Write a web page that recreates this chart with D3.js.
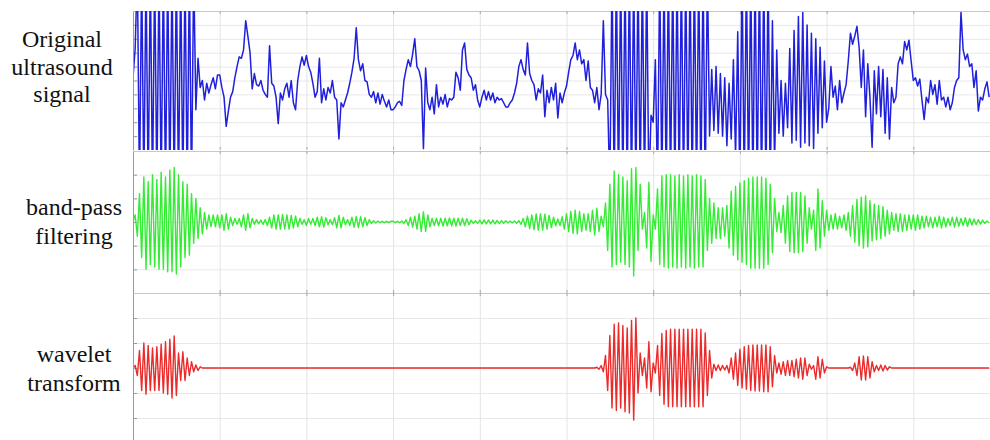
<!DOCTYPE html>
<html>
<head>
<meta charset="utf-8">
<script src="https://cdn.jsdelivr.net/npm/d3@7"></script>
<style>
  body { margin: 0; background: #fff; }
</style>
</head>
<body>
<div id="chart"></div>
<script>
var svgWidth = 990;
var svgHeight = 440;

// ---- data (one line per grid column) ----
var originalLabel = ["Original", "ultrasound", "signal"];
var bandpassLabel = ["band-pass", "filtering"];
var waveletLabel = ["wavelet", "transform"];

var originalTicks = [10, 20, 30, 40, 50, 60, 70, 80, 90];
var filteredTicks = [-20, -10, 0, 10, 20];
var sampleTicks = [40, 80, 120, 160, 200, 240, 280, 320, 360];

var originalSignal = [
  52,73,130,-30,130,-30,130,-30,130,-30,130,-30,130,-30,130,-30,130,-30,130,-30,130,-30,130,-30,130,-30,130,-30,130,29,66,45,50,36,48,41,47,52,44,54,
  54,45,38,17,28,38,42,52,60,67,66,72,93,82,70,44,55,47,46,50,43,40,38,75,48,46,38,19,41,36,44,48,38,50,34,29,50,60,67,61,
  68,60,56,48,38,42,66,34,44,36,45,41,50,38,36,8,34,31,36,41,48,56,66,88,65,57,62,50,49,40,38,42,34,41,33,40,35,31,36,29,
  29,31,34,35,32,50,58,65,60,69,80,60,57,50,1,59,34,29,38,26,47,31,38,33,40,31,37,36,38,56,52,43,72,77,58,54,52,43,47,36,
  31,38,43,36,42,36,41,34,38,36,37,34,31,31,34,36,41,48,60,65,58,54,77,55,50,47,36,44,41,54,24,43,34,45,36,48,23,41,34,41,
  46,56,65,68,77,65,72,62,65,50,64,45,43,34,45,29,40,93,40,36,-30,130,-30,130,-30,130,-30,130,-30,130,-30,130,-30,130,-30,130,-30,130,-30,25,
  20,65,-30,130,-30,130,-30,130,-30,130,-30,130,-30,130,-30,130,-30,130,-30,130,-30,130,-30,130,-30,130,10,58,14,60,12,55,10,52,3,48,8,65,-5,85,
  -30,130,-30,130,-30,130,-30,130,-30,130,-30,130,-30,130,-30,93,-10,72,12,50,10,48,16,73,5,86,7,96,2,99,5,90,3,84,1,80,12,74,16,64,
  20,30,60,38,46,29,50,34,41,47,64,84,76,82,89,74,45,72,24,62,38,2,57,26,60,24,58,12,52,8,45,34,38,62,67,62,78,72,79,64,
  50,52,46,51,36,22,38,34,50,40,47,33,50,36,38,31,38,29,34,45,50,52,99,72,65,69,60,62,45,57,28,38,36,44,49,38
];

var bandpassSignal = [
  0,3,-6,12,-15,19,-20,17,-18,20,-19,18,-20,21,-20,19,-21,22,-21,23,-22,20,-19,17,-15,16,-14,12,-9,10,-7,6,-5,4,-3,3,-2,3,-2,3,
  -2.5,3,-3.5,3.5,-3,2,-1.5,1.5,-1,1.5,-2,3,-3.5,3.5,-2.5,1.5,-1,1,-0.8,0.8,-1,1,-1.5,2,-2.5,3,-3,3,-3,3.2,-3,3,-3,2.8,-2.5,2.5,-2,1.5,-1,1,
  -1.5,1.5,-1,1.5,-1.5,2,-2,2.2,-2.2,1.8,-1.2,1,-1.2,1.8,-2.5,2.8,-2.5,2,-1.2,1,-1.5,2,-2.2,2.3,-2.3,2.2,-2,1.8,-1.5,1,-0.6,0.5,-0.4,0.4,-0.3,0.3,-0.3,0.3,-0.3,0.3,
  0.3,-0.3,0.3,-0.3,0.4,-0.6,1,-1.5,2,-2.2,2.5,-3,3.5,-4,4.3,-4,3,-2,1.5,-1.5,1.6,-1.6,1.6,-1.7,1.6,-1.6,1.7,-1.6,1.6,-1.7,1.6,-1.5,1.6,-1.5,1.4,-1.2,0.8,-0.6,0.5,-0.6,
  0.8,-0.8,0.9,-0.8,0.9,-0.8,0.8,-0.8,0.7,-0.7,0.6,-0.5,0.5,-0.4,0.4,-0.4,0.4,-0.5,0.6,-1,1.5,-2,2.5,-2.8,3,-3.2,3.4,-3.4,3.5,-3.4,3.3,-3,2.8,-2.4,2,-1.6,1.3,-1.5,2.2,-3,
  3.5,-4,4.5,-4.8,5,-5,4.5,-4,3.5,-3.5,3.5,-4,5,-5.5,5.8,-4,2.5,-2,8,-12,16,-19,21.5,-18,20,-17,19,-18,17.5,-19,22.5,-22.8,23,-12,16,-3,4,-11,16.8,-16.7,
  3,-3,14,-18,19.5,-19,20,-19.5,20,-19,19.5,-19.5,20,-19,19.5,-19.5,20,-19,19.5,-19.5,20,-19,19.5,-19,18,-12,10,-9,8,-7,6,-7,6,-6,7,-11,13,-14,15,-16,
  16.5,-17,17.5,-18,18.5,-19.5,19,-19.5,19,-19.5,19,-19.5,18.5,-18,16,-13,10,-4,4,-4.5,7,-9,11,-12.5,12.5,-13,12.5,-13,12.5,-12.5,11,-9,6,-3,5,-12,14,-11,9,-6,
  5,-3.5,3,-3,3.5,-3,2.5,-2.5,3,-3.5,4,-6,7,-8.5,9.5,-10,10.5,-11,11,-10.5,9,-8,7.5,-7.5,7,-7,6.5,-6,5,-5,4,-3.5,3.5,-4,3.5,-4,3,-3.5,3,-3,
  3,-3.5,3,-3,2.5,-2.5,2.5,-2,2,-2.5,2,-2,2.5,-2.5,2,-2,1.5,-1.5,2,-2.2,2,-1.8,1.5,-1.5,1.8,-1.8,1.5,-1.3,1.3,-1.2,1,-0.9,0.8,-0.6,0.4,-0.3
];

var waveletSignal = [
  0,1,-3,7,-9,10,-10.5,9,-9,8,-9,8.5,-9,9.5,-10,10.5,-10.5,11.5,-12,12.8,-11,6,-5,6.5,-5,4,-3,2.5,-1.5,1.2,-1,0.5,0,0,0,0,0,0,0,0,
  0,0,0,0,0,0,0,0,0,0,0,0,0,0,0,0,0,0,0,0,0,0,0,0,0,0,0,0,0,0,0,0,0,0,0,0,0,0,0,0,
  0,0,0,0,0,0,0,0,0,0,0,0,0,0,0,0,0,0,0,0,0,0,0,0,0,0,0,0,0,0,0,0,0,0,0,0,0,0,0,0,
  0,0,0,0,0,0,0,0,0,0,0,0,0,0,0,0,0,0,0,0,0,0,0,0,0,0,0,0,0,0,0,0,0,0,0,0,0,0,0,0,
  0,0,0,0,0,0,0,0,0,0,0,0,0,0,0,0,0,0,0,0,0,0,0,0,0,0,0,0,0,0,0,0,0,0,0,0,0,0,0,0,
  0,0,0,0,0,0,0,0,0,0,0,0,0,0,0.3,-0.5,1,-1.5,5,-9,13,-16,17.5,-17,18,-16,17,-17.5,16,-18,19,-20.8,20,-10,6,-3,4,-8,10.5,-9.5,
  2,-2,9,-11,13.8,-14.5,15,-15.5,15.5,-15.5,15.5,-15.5,15.5,-15.5,15.5,-15.5,15.5,-15.5,15.5,-15.5,15.5,-15.5,15.5,-15.5,14,-11,7,-4,1.5,-1,1.2,-1,1,-0.8,1,-2,4,-4.5,6,-7,
  7.5,-8,8.5,-8.5,9,-9,9.2,-9.2,9.2,-9.2,9.2,-9.5,9.2,-9.5,8.5,-7.5,5,-2,2,-2.5,2.5,-3,3,-3,3,-3.5,3.5,-4,4,-4.5,4,-3,1.5,-0.5,1,-4.5,4.5,-4,3.5,-2,
  0.5,0,0,0,0,0,0,0,0,0,0,0.3,-1,2,-3,4.5,-4.8,4.8,-4.8,4.5,-4,2.5,-1.5,1,-1,1.2,-1.2,1,-0.8,0.5,0,0,0,0,0,0,0,0,0,0,
  0,0,0,0,0,0,0,0,0,0,0,0,0,0,0,0,0,0,0,0,0,0,0,0,0,0,0,0,0,0,0,0,0,0,0,0
];

// ---- layout ----
var plotLeft = 133;
var plotRight = 1000;

var panels = [
  { top: 11, bottom: 150, domain: [0, 100], ticks: originalTicks, data: originalSignal,
    color: "#2020dc", width: 1.5, label: originalLabel, labelX: 62, labelY: [47, 75, 102] },
  { top: 151, bottom: 293, domain: [-30, 30], ticks: filteredTicks, data: bandpassSignal,
    color: "#33ec33", width: 1.4, label: bandpassLabel, labelX: 74, labelY: [215, 244] },
  { top: 293, bottom: 443, domain: [-30, 30], ticks: filteredTicks, data: waveletSignal,
    color: "#ec2a2a", width: 1.4, label: waveletLabel, labelX: 74, labelY: [362, 391] }
];

var svg = d3.select("#chart")
  .append("svg")
  .attr("width", svgWidth)
  .attr("height", svgHeight);

var xScale = d3.scaleLinear()
  .domain([0, 400])
  .range([plotLeft, plotRight]);

panels.forEach(function(p, k) {
  var yScale = d3.scaleLinear()
    .domain(p.domain)
    .range([p.bottom, p.top]);

  var g = svg.append("g");

  // horizontal grid
  var yGrid = g.append("g")
    .attr("transform", `translate(${plotLeft}, 0)`)
    .call(d3.axisLeft(yScale).tickValues(p.ticks).tickSize(-(plotRight - plotLeft)).tickFormat(""));
  yGrid.select(".domain").remove();
  yGrid.selectAll("line").attr("stroke", "#e8e8e8");

  // vertical grid
  var xGrid = g.append("g")
    .attr("transform", `translate(0, ${p.bottom})`)
    .call(d3.axisBottom(xScale).tickValues(sampleTicks).tickSize(-(p.bottom - p.top)).tickFormat(""));
  xGrid.select(".domain").remove();
  xGrid.selectAll("line").attr("stroke", "#e4e4e4");

  // panel top border with small ticks
  var topAxis = g.append("g")
    .attr("transform", `translate(0, ${p.top})`)
    .call(d3.axisBottom(xScale).tickValues(sampleTicks).tickSize(3).tickSizeOuter(0).tickFormat(""));
  topAxis.select(".domain").attr("stroke", "#c8c8c8");
  topAxis.selectAll("line").attr("stroke", "#aaa");

  var bottomTicks = g.append("g")
    .attr("transform", `translate(0, ${p.bottom})`)
    .call(d3.axisTop(xScale).tickValues(sampleTicks).tickSize(3).tickSizeOuter(0).tickFormat(""));
  bottomTicks.select(".domain").remove();
  bottomTicks.selectAll("line").attr("stroke", "#aaa");

  // left axis
  var leftAxis = g.append("g")
    .attr("transform", `translate(${plotLeft}, 0)`)
    .call(d3.axisLeft(yScale).tickValues(p.ticks).tickSize(-4).tickSizeOuter(0).tickFormat(""));
  leftAxis.select(".domain").attr("stroke", "#9a9a9a");
  leftAxis.selectAll("line").attr("stroke", "#9a9a9a");

  // clip and signal
  svg.append("clipPath")
    .attr("id", "clip" + k)
    .append("rect")
    .attr("x", plotLeft + 1)
    .attr("y", p.top)
    .attr("width", plotRight - plotLeft)
    .attr("height", p.bottom - p.top);

  var line = d3.line()
    .x(function(d, i) { return xScale(i); })
    .y(function(d) { return yScale(d); });

  g.append("path")
    .datum(p.data)
    .attr("clip-path", "url(#clip" + k + ")")
    .attr("fill", "none")
    .attr("stroke", p.color)
    .attr("stroke-width", p.width)
    .attr("stroke-linejoin", "round")
    .attr("d", line);

  // label
  g.selectAll("text.label")
    .data(p.label)
    .enter()
    .append("text")
    .attr("class", "label")
    .attr("x", p.labelX)
    .attr("y", function(d, i) { return p.labelY[i]; })
    .attr("text-anchor", "middle")
    .style("font-family", "'Liberation Serif'")
    .style("font-size", "24px")
    .style("fill", "#111")
    .text(function(d) { return d; });
});
</script>
</body>
</html>
